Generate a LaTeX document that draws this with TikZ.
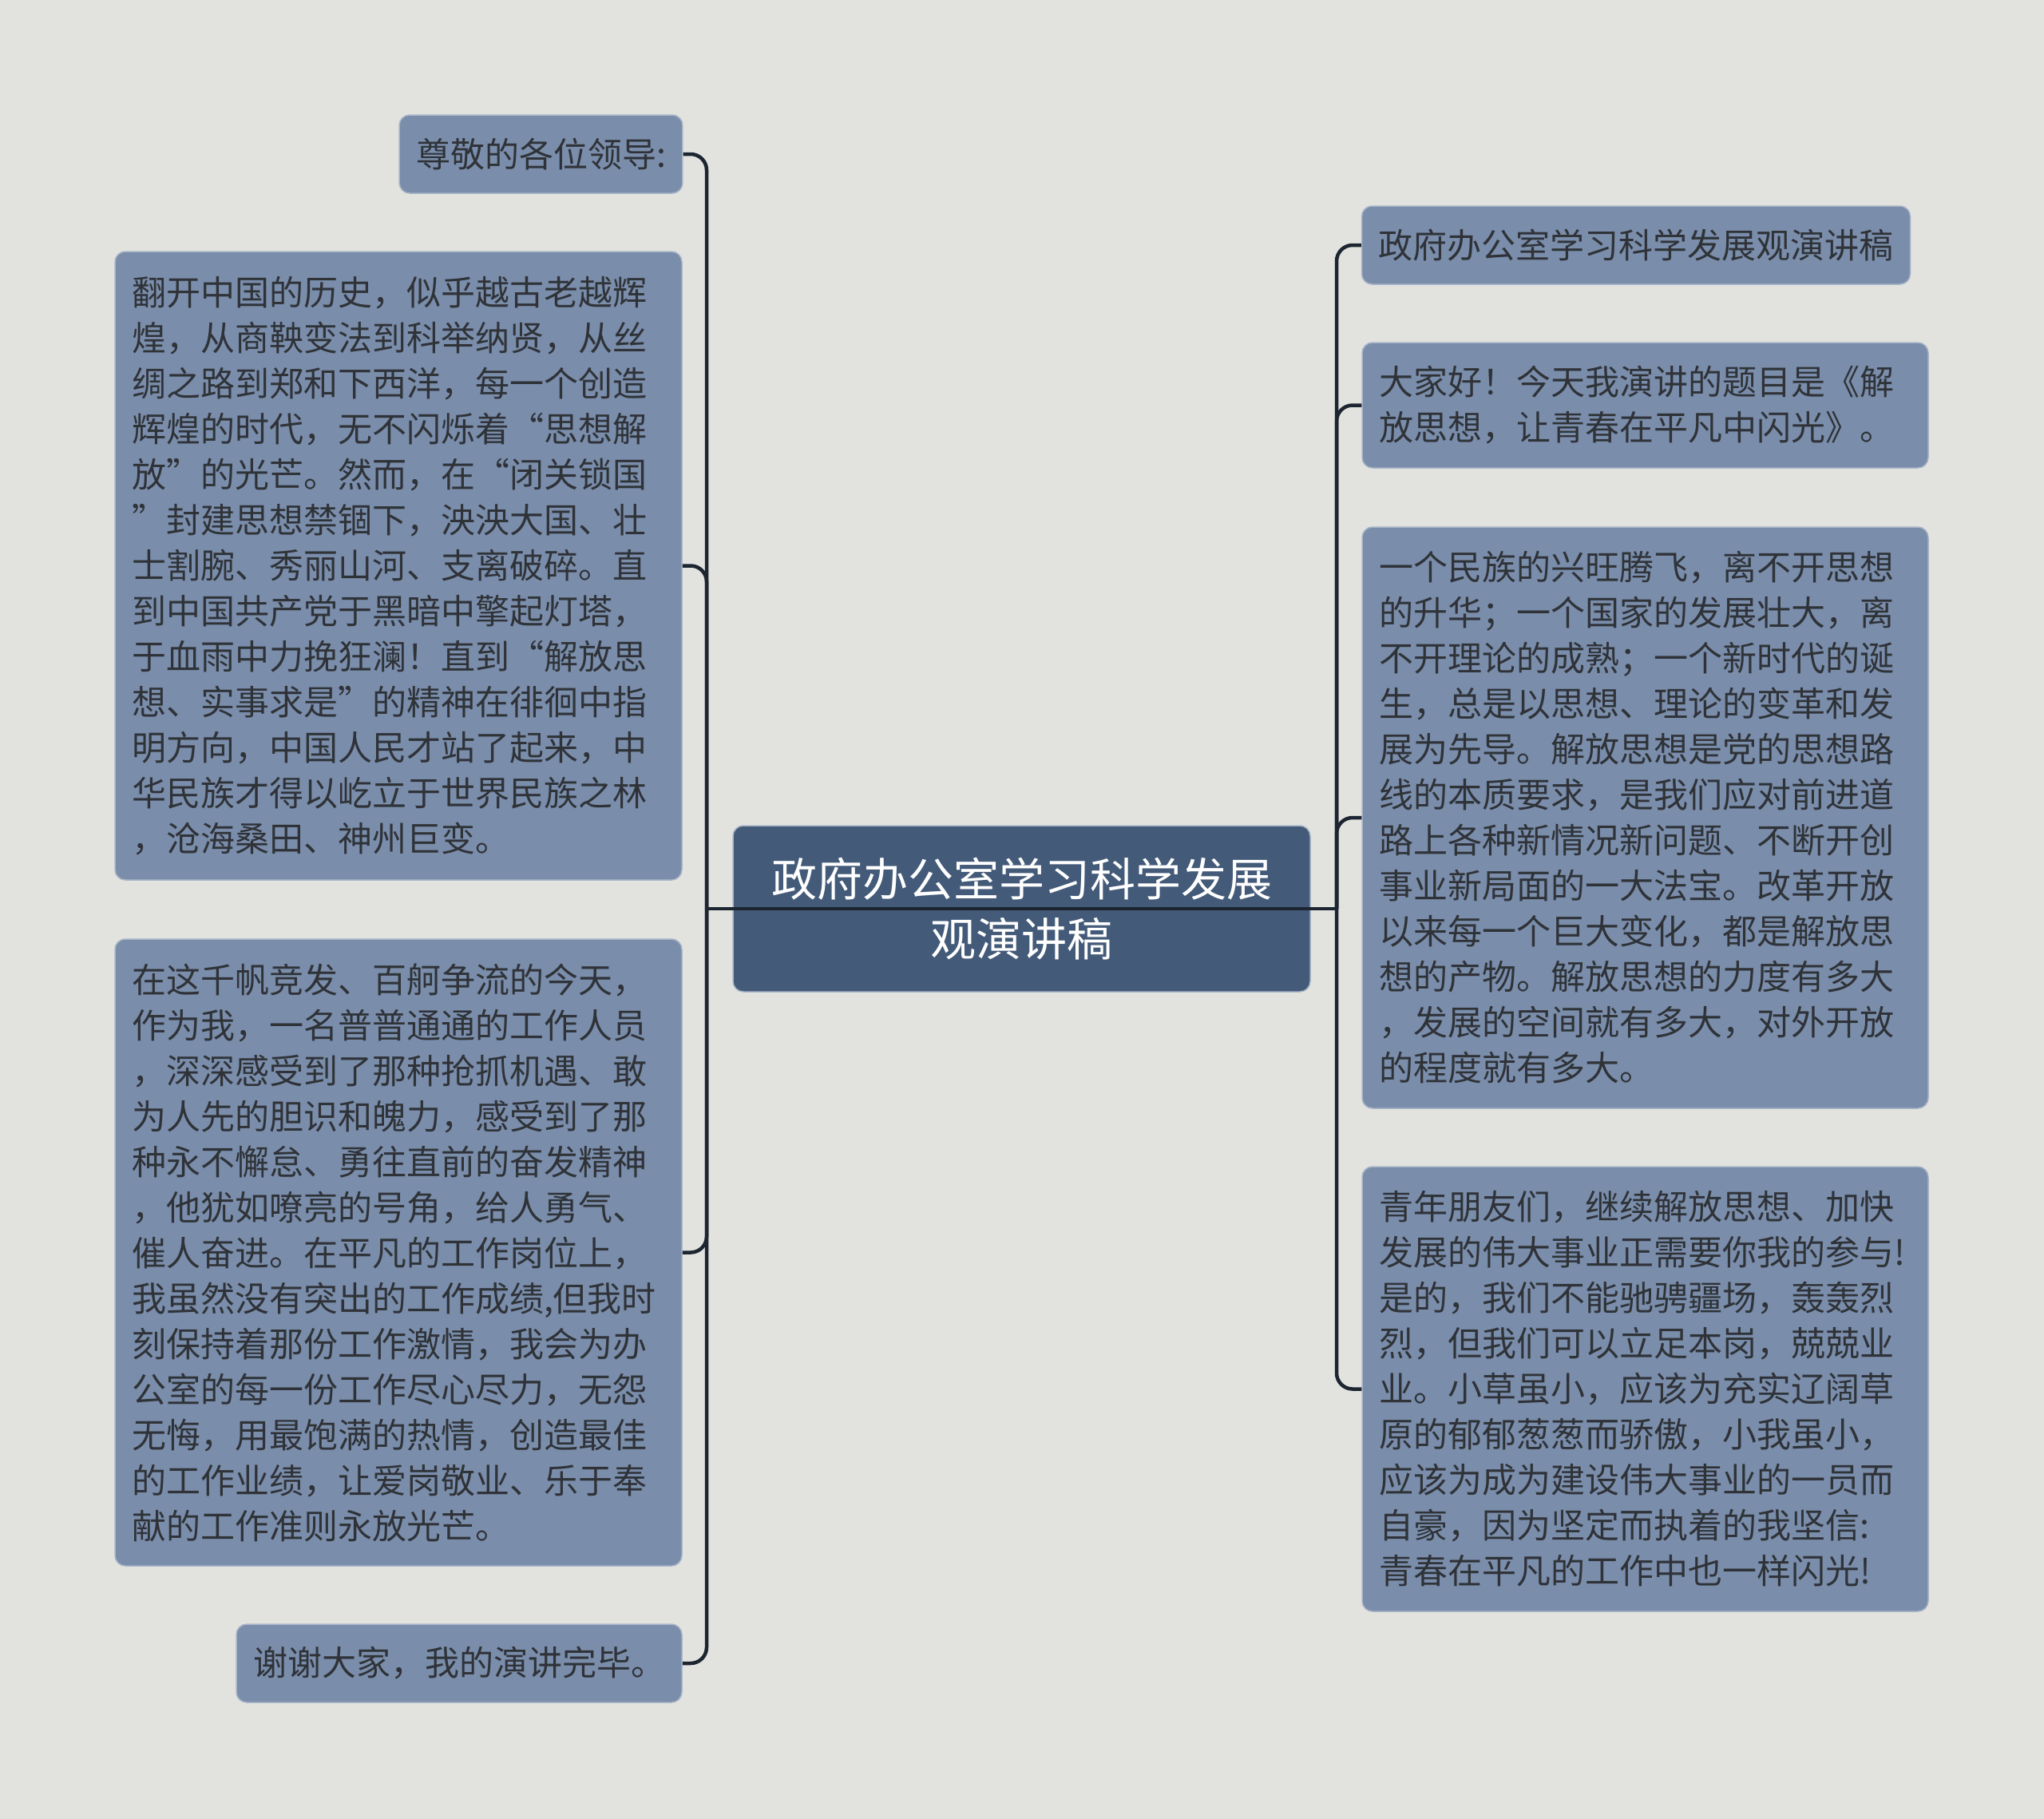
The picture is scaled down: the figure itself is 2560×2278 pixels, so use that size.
\documentclass[tikz,border=0pt]{standalone}
\usepackage{fontspec}
\newfontfamily\cjk{Noto Sans CJK SC}
\definecolor{bgc}{HTML}{E2E3DF}
\definecolor{boxc}{HTML}{7A8DAB}
\definecolor{rootc}{HTML}{435A79}
\definecolor{txtc}{HTML}{2F3338}
\definecolor{linec}{HTML}{1C2530}
\definecolor{edgec}{HTML}{A9B5C7}
\tikzset{
  leaf/.style={rectangle, rounded corners=13pt, fill=boxc, draw=edgec, line width=1.5pt,
    text=txtc, font=\cjk\fontsize{43}{57}\selectfont, inner xsep=21pt, inner ysep=0pt,
    align=left, anchor=center},
  rootbox/.style={rectangle, rounded corners=13pt, fill=rootc, draw=edgec, line width=1.5pt,
    text=white, font=\cjk\fontsize{57}{75}\selectfont, align=center, inner sep=0pt, anchor=center},
  conn/.style={draw=linec, line width=4.5pt, rounded corners=20pt}
}
\begin{document}
\begin{tikzpicture}[x=1pt,y=-1pt]
\fill[bgc] (0,0) rectangle (2560,2278);
\useasboundingbox (0,0) rectangle (2560,2278);

% root
\node[rootbox, minimum width=723pt, minimum height=208pt] (root) at (1279.5,1138)
  {政府办公室学习科学发展\\观演讲稿};

% left
\node[leaf, minimum width=353pt, minimum height=98pt, align=center] (L1) at (677.5,193)
  {尊敬的各位领导:};
\node[leaf, text width=668pt, minimum height=787pt] (L2) at (499,708.5)
  {翻开中国的历史，似乎越古老越辉\\
   煌，从商鞅变法到科举纳贤，从丝\\
   绸之路到郑和下西洋，每一个创造\\
   辉煌的时代，无不闪烁着“思想解\\
   放”的光芒。然而，在“闭关锁国\\
   ”封建思想禁锢下，泱泱大国、壮\\
   士割腕、秀丽山河、支离破碎。直\\
   到中国共产党于黑暗中擎起灯塔，\\
   于血雨中力挽狂澜！直到“解放思\\
   想、实事求是”的精神在徘徊中指\\
   明方向，中国人民才站了起来，中\\
   华民族才得以屹立于世界民族之林\\
   ，沧海桑田、神州巨变。};
\node[leaf, text width=668pt, minimum height=785pt] (L3) at (499,1568.5)
  {在这千帆竞发、百舸争流的今天，\\
   作为我，一名普普通通的工作人员\\
   ，深深感受到了那种抢抓机遇、敢\\
   为人先的胆识和魄力，感受到了那\\
   种永不懈怠、勇往直前的奋发精神\\
   ，他犹如嘹亮的号角，给人勇气、\\
   催人奋进。在平凡的工作岗位上，\\
   我虽然没有突出的工作成绩,但我时\\
   刻保持着那份工作激情，我会为办\\
   公室的每一份工作尽心尽力，无怨\\
   无悔，用最饱满的热情，创造最佳\\
   的工作业绩，让爱岗敬业、乐于奉\\
   献的工作准则永放光芒。};
\node[leaf, minimum width=558pt, minimum height=98pt, align=center] (L4) at (575,2083)
  {谢谢大家，我的演讲完毕。};

% right
\node[leaf, minimum width=686pt, minimum height=98pt, align=center] (R1) at (2049,307)
  {政府办公室学习科学发展观演讲稿};
\node[leaf, text width=667pt, minimum height=157pt] (R2) at (2060.5,507.5)
  {大家好！今天我演讲的题目是《解\\
   放思想，让青春在平凡中闪光》。};
\node[leaf, text width=667pt, minimum height=728pt] (R3) at (2060.5,1024)
  {一个民族的兴旺腾飞，离不开思想\\
   的升华；一个国家的发展壮大，离\\
   不开理论的成熟；一个新时代的诞\\
   生，总是以思想、理论的变革和发\\
   展为先导。解放思想是党的思想路\\
   线的本质要求，是我们应对前进道\\
   路上各种新情况新问题、不断开创\\
   事业新局面的一大法宝。改革开放\\
   以来每一个巨大变化，都是解放思\\
   想的产物。解放思想的力度有多大\\
   ，发展的空间就有多大，对外开放\\
   的程度就有多大。};
\node[leaf, text width=667pt, minimum height=557pt] (R4) at (2060.5,1739.5)
  {青年朋友们，继续解放思想、加快\\
   发展的伟大事业正需要你我的参与!\\
   是的，我们不能驰骋疆场，轰轰烈\\
   烈，但我们可以立足本岗，兢兢业\\
   业。小草虽小，应该为充实辽阔草\\
   原的郁郁葱葱而骄傲，小我虽小，\\
   应该为成为建设伟大事业的一员而\\
   自豪，因为坚定而执着的我坚信:\\
   青春在平凡的工作中也一样闪光!};

% junctions
\coordinate (jl) at (885,1138);
\coordinate (jr) at (1674,1138);

% connectors
\draw[conn] (jl) -- (jr);
\foreach \n in {L1,L2,L3,L4} {\draw[conn] (jl) |- (\n.east);}
\foreach \n in {R1,R2,R3,R4} {\draw[conn] (jr) |- (\n.west);}
\end{tikzpicture}
\end{document}
